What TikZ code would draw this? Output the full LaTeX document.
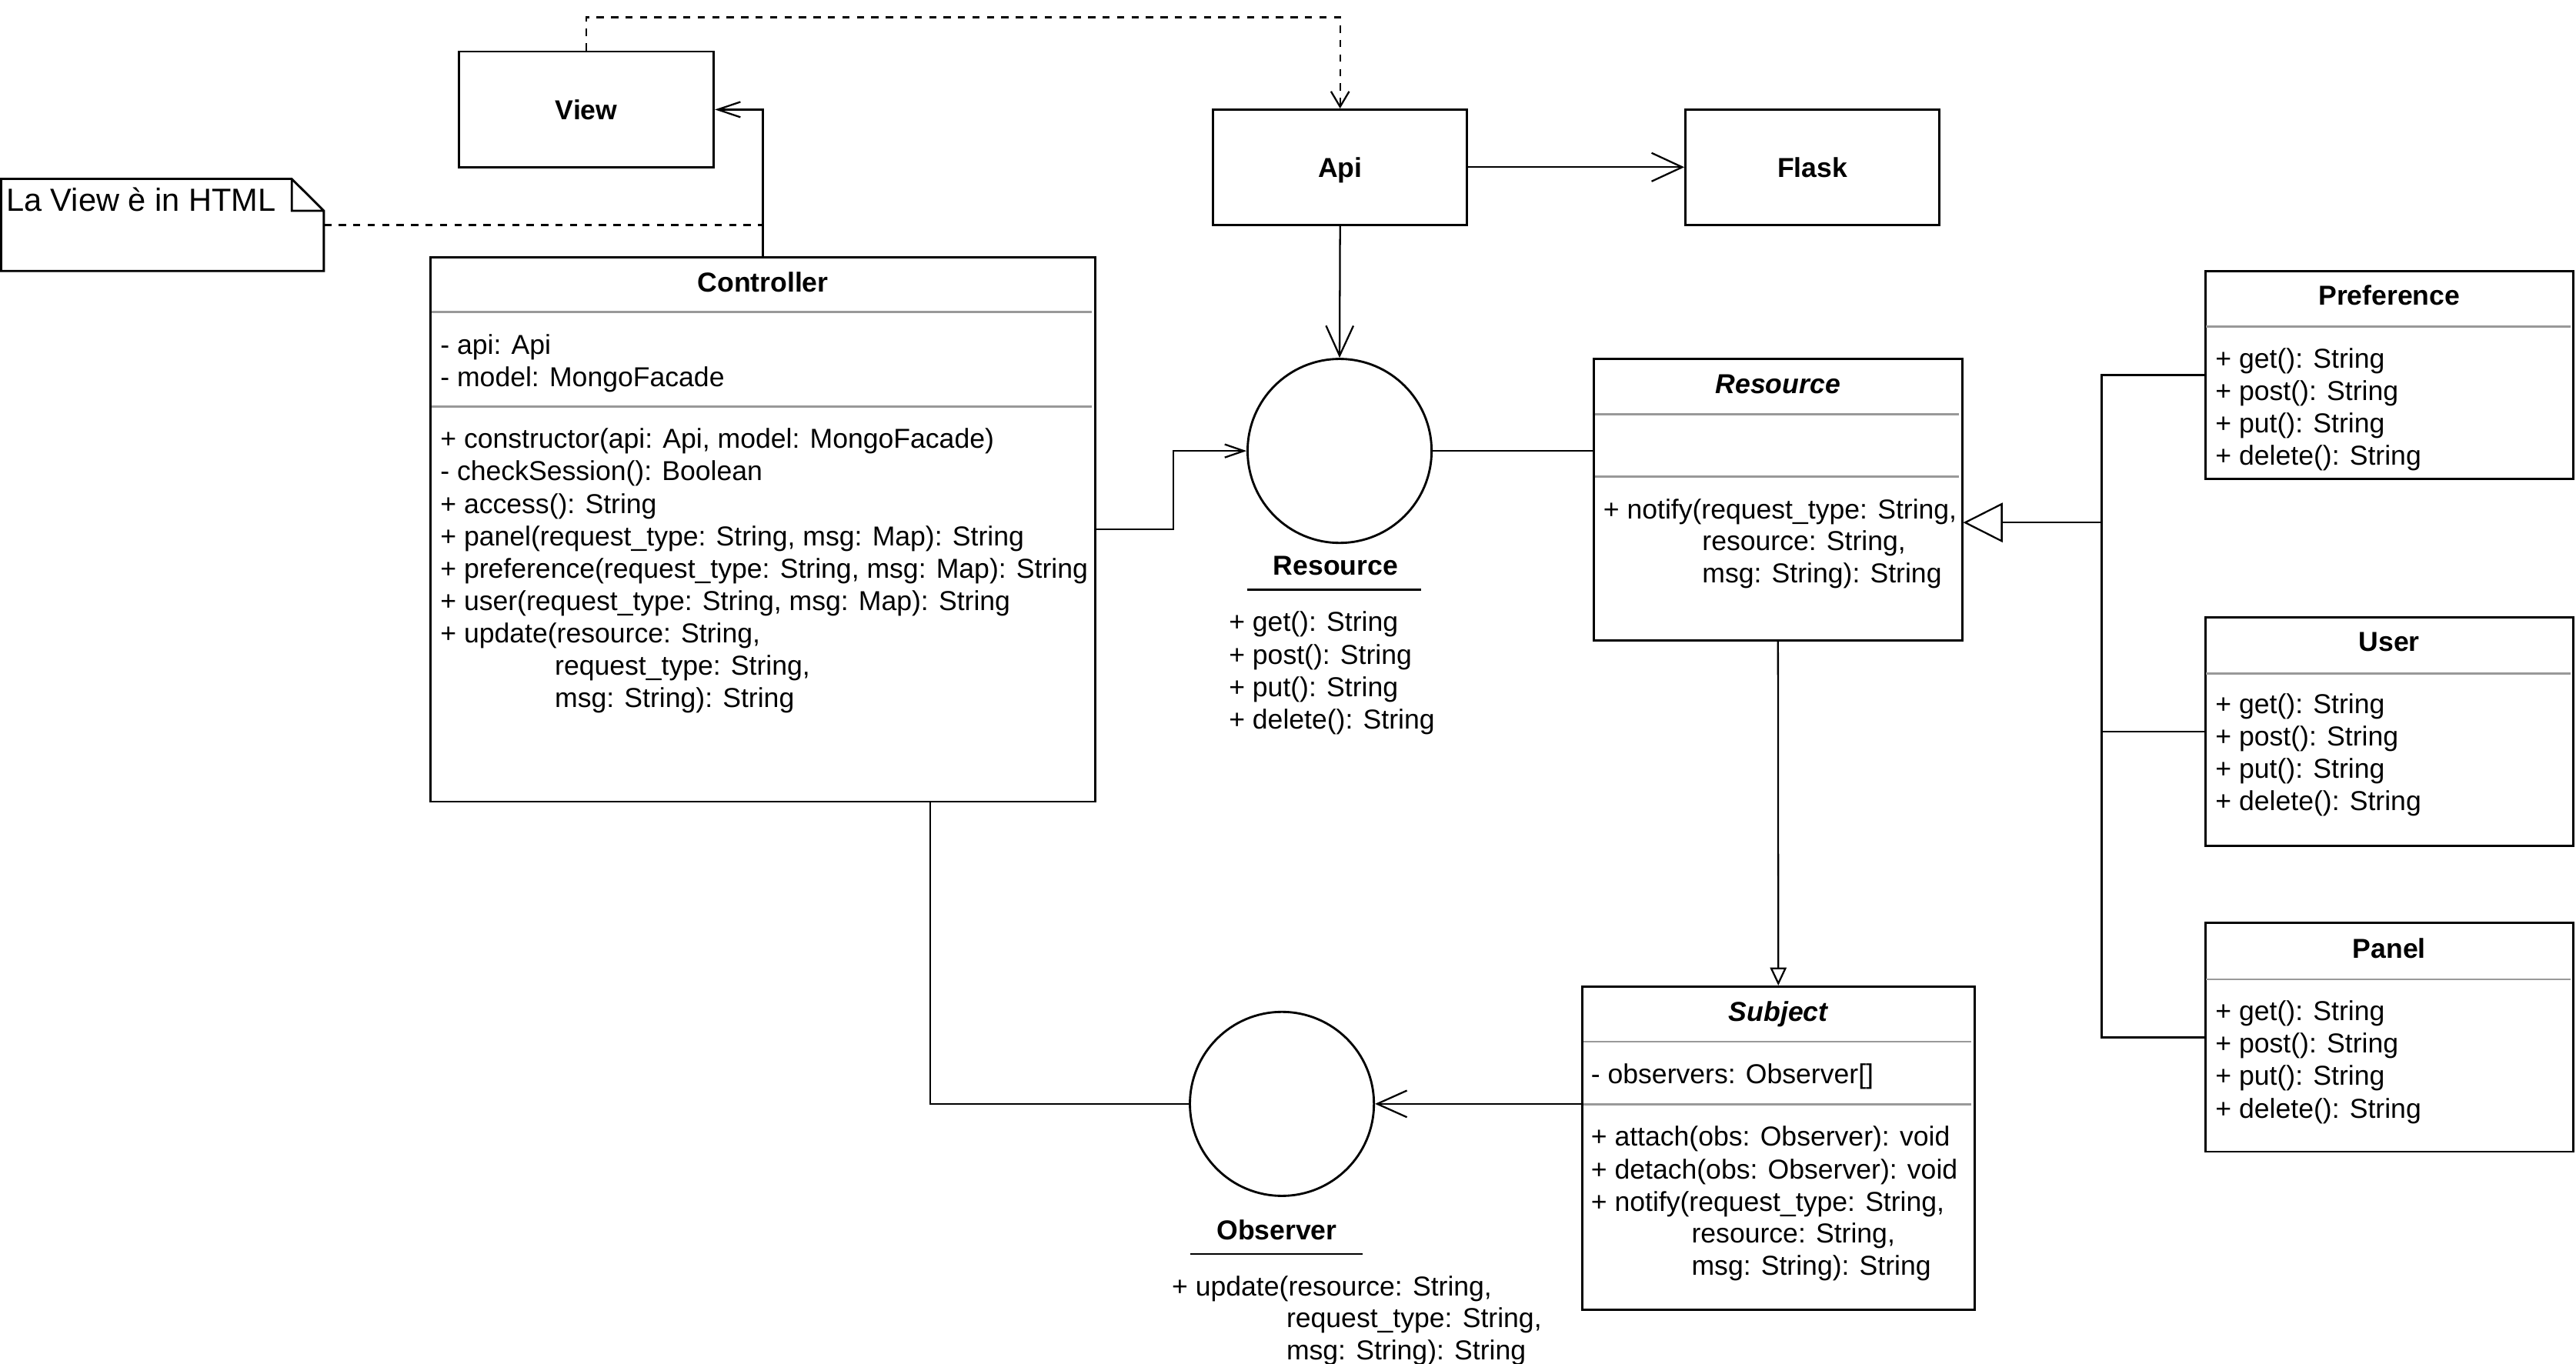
\documentclass[tikz,border=0pt]{standalone}
\usepackage{fontspec}
\setmainfont{Liberation Sans}
\usetikzlibrary{arrows.meta,fit}
\newcommand\umlrows[4]{%
  \foreach \rowtext [count=\i] in {#4} {\node[txt] (#1\i) at (#2,{#3+(\i-1)*19.7}) {\rowtext};}}
\begin{document}
\begin{tikzpicture}[x=0.75pt,y=-0.75pt,
  box/.style={draw, line width=1pt, inner sep=0pt, fill=white},
  lolli/.style={draw, circle, line width=1pt, inner sep=0pt, minimum size=84pt},
  sepline/.style={draw=black!40, line width=1pt},
  txt/.style={anchor=west, inner sep=0pt, font=\fontsize{12.5}{15}\selectfont, text height=9pt, text depth=0pt},
  ttl/.style={txt, anchor=center, font=\fontsize{12.5}{15}\selectfont\bfseries},
  ittl/.style={txt, anchor=center, font=\fontsize{12.5}{15}\selectfont\bfseries\itshape},
  conn/.style={line width=0.8pt},
  dashln/.style={conn, dash pattern=on 3.3pt off 3.3pt},
  uline/.style={line width=1pt},
]
\useasboundingbox (0,0) rectangle (1568,830.3);

% ---------- note ----------
\node[inner sep=0pt, fit={(0.7,108.9) (197.1,165)}] (note) {};
\draw[line width=1pt] (0.7,108.9) -- (177.6,108.9) -- (197.1,128.3) -- (197.1,165) -- (0.7,165) -- cycle
  (177.6,108.9) -- (177.6,128.3) -- (197.1,128.3);
\node[anchor=west, inner sep=0pt, font=\fontsize{14.6}{17}\selectfont, text height=10.5pt, text depth=0pt]
  (notetxt) at (3.5,121.4) {La View è in HTML};

% ---------- simple boxes ----------
\node[box, fit={(279.4,31.4) (434.5,102)}] (view) {};
\node[ttl] (viewT) at (view.center) {View};
\node[box, fit={(738.4,66.7) (893,136.8)}] (api) {};
\node[ttl] (apiT) at (api.center) {Api};
\node[box, fit={(1025.9,66.7) (1180.5,136.8)}] (flask) {};
\node[ttl] (flaskT) at (flask.center) {Flask};

% ---------- Controller ----------
\node[box, fit={(262.1,156.5) (666.7,488)}] (ctrl) {};
\node[ttl] (ctrlT) at (464.4,171.6) {Controller};
\draw[sepline] (262.6,190.1) -- (664.5,190.1);
\draw[sepline] (262.6,247.5) -- (664.5,247.5);
\umlrows{ca}{267.8}{209.5}{{- api: Api},{- model: MongoFacade}}
\umlrows{cm}{267.8}{267}{{+ constructor(api: Api, model: MongoFacade)},{- checkSession(): Boolean},{+ access(): String},{+ panel(request\_type: String, msg: Map): String},{+ preference(request\_type: String, msg: Map): String},{+ user(request\_type: String, msg: Map): String},{+ update(resource: String,}}
\umlrows{ci}{337.5}{404.9}{{request\_type: String,},{msg: String): String}}

% ---------- Resource interface (lollipop) ----------
\node[lolli] (rc) at (815.4,274.5) {};
\node[ttl] (rcT) at (813,344.1) {Resource};
\draw[uline] (759.4,358.9) -- (864.8,358.9);
\umlrows{rm}{747.8}{378.5}{{+ get(): String},{+ post(): String},{+ put(): String},{+ delete(): String}}

% ---------- Resource abstract class ----------
\node[box, fit={(970.2,218.3) (1194.3,389.8)}] (res) {};
\node[ittl] (resT) at (1082.2,233.4) {Resource};
\draw[sepline] (970.7,252.2) -- (1192.3,252.2);
\draw[sepline] (970.7,290.1) -- (1192.3,290.1);
\umlrows{resm}{975.7}{309.7}{{+ notify(request\_type: String,}}
\umlrows{resi}{1035.9}{329.2}{{resource: String,},{msg: String): String}}

% ---------- Preference / User / Panel ----------
\node[box, fit={(1342.3,165.1) (1566.3,291.4)}] (pref) {};
\node[ttl] (prefT) at (1454.3,179.6) {Preference};
\draw[sepline] (1342.8,198.9) -- (1564.5,198.9);
\umlrows{pm}{1348.3}{218}{{+ get(): String},{+ post(): String},{+ put(): String},{+ delete(): String}}

\node[box, fit={(1342.3,375.9) (1566.3,514.8)}] (user) {};
\node[ttl] (userT) at (1454.3,390.4) {User};
\draw[sepline] (1342.8,410) -- (1564.5,410);
\umlrows{um}{1348.3}{428.5}{{+ get(): String},{+ post(): String},{+ put(): String},{+ delete(): String}}

\node[box, fit={(1342.3,561.9) (1566.3,701.1)}] (panel) {};
\node[ttl] (panelT) at (1454.3,577.3) {Panel};
\draw[sepline] (1342.8,596.2) -- (1564.5,596.2);
\umlrows{pam}{1348.3}{615.4}{{+ get(): String},{+ post(): String},{+ put(): String},{+ delete(): String}}

% ---------- Subject ----------
\node[box, fit={(963.1,600.6) (1201.8,797.3)}] (subj) {};
\node[ittl] (subjT) at (1082.4,615.6) {Subject};
\draw[sepline] (963.6,634.1) -- (1199.8,634.1);
\draw[sepline] (963.6,672.2) -- (1199.8,672.2);
\umlrows{sa}{968.2}{653.8}{{- observers: Observer[]}}
\umlrows{sm}{968.2}{691.8}{{+ attach(obs: Observer): void},{+ detach(obs: Observer): void},{+ notify(request\_type: String,}}
\umlrows{si}{1029.4}{750.5}{{resource: String,},{msg: String): String}}

% ---------- Observer interface (lollipop) ----------
\node[lolli] (oc) at (780.3,672) {};
\node[ttl] (ocT) at (777.2,748.9) {Observer};
\draw[uline] (724.4,763.4) -- (829.3,763.4);
\umlrows{om}{713.1}{782.8}{{+ update(resource: String,}}
\umlrows{oi}{782.8}{802.2}{{request\_type: String,},{msg: String): String}}

% ---------- helper coordinates ----------
\coordinate (dtop) at (600,10.5);
\coordinate (cbend) at (714.1,0);
\coordinate (trunk) at (1279.2,318.1);
\coordinate (cdown) at (566.3,0);

% ---------- connectors ----------
\draw[dashln, -{Straight Barb[length=7pt,width=8.3pt]}] (view.north) |- (dtop) -| (api.north);
\draw[conn, -{Straight Barb[length=10.4pt,width=7pt]}] (ctrl.north) |- (view.east);
\draw[dashln] (note.east) -- (note.east -| ctrl.north);
\draw[conn, -{Straight Barb[length=14pt,width=13pt]}] (api.east) -- (flask.west);
\draw[conn, -{Straight Barb[length=13.7pt,width=12.5pt]}] (api.south) -- (rc.north);
\draw[conn, -{Straight Barb[length=8.7pt,width=6pt]}] (ctrl.east) -- (ctrl.east -| cbend) |- (rc.west);
\draw[conn] (rc.east) -- (rc.east -| res.west);
\draw[conn] (pref.west) -- (pref.west -| trunk) -- (panel.west -| trunk) -- (panel.west);
\draw[conn] (user.west) -- (user.west -| trunk);
\draw[conn, -{Triangle[open,length=18pt,width=18pt]}] (trunk) -- (trunk -| res.east);
\draw[conn, -{Triangle[open,length=8.2pt,width=7.5pt]}] (res.south) -- (subj.north);
\draw[conn, -{Straight Barb[length=13.6pt,width=12.2pt]}] (oc.east -| subj.west) -- (oc.east);
\draw[conn] (ctrl.south -| cdown) |- (oc.west);
\end{tikzpicture}
\end{document}
